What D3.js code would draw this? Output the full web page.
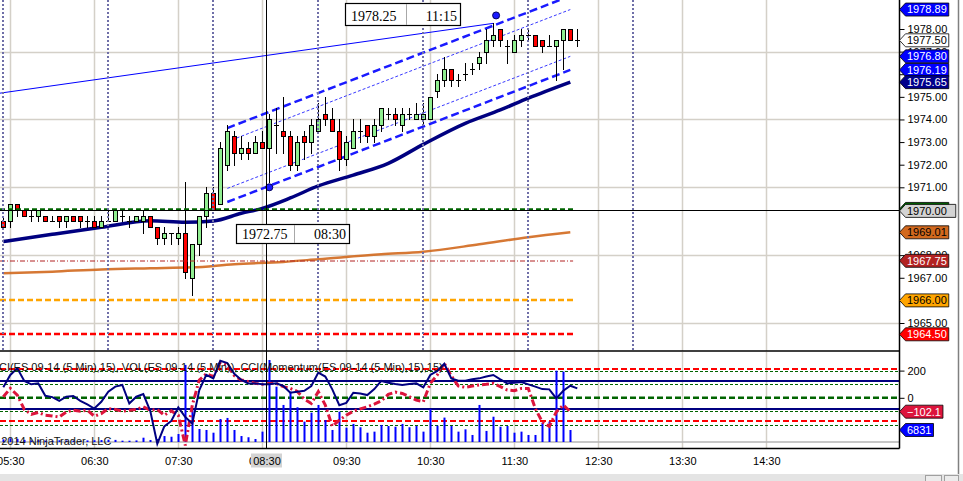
<!DOCTYPE html>
<html>
<head>
<meta charset="utf-8">
<script src="https://cdn.jsdelivr.net/npm/d3@7"></script>
<style>
body { margin: 0; background: #fff; }
svg { display: block; font-family: "Liberation Sans", Arial, sans-serif; }
</style>
</head>
<body>
<svg id="chart" width="963" height="481"></svg>
<script>
// ES 09-14 (5 Min) bars, first bar 05:25
var firstBar = "05:25";
var opens  = [1969.50,1969.50,1970.25,1970.00,1969.75,1969.75,1969.75,1969.50,1969.75,1969.50,
              1969.75,1969.75,1969.50,1969.50,1969.25,1969.50,1969.50,1969.75,1969.50,1969.50,
              1969.50,1969.75,1969.25,1968.75,1969.00,1968.75,1969.00,1967.00,1968.50,1969.75,
              1970.75,1970.25,1972.00,1973.25,1972.50,1972.75,1972.50,1973.00,1972.75,1973.75,
              1973.50,1973.25,1972.00,1973.25,1973.00,1973.50,1974.25,1974.00,1973.50,1972.25,
              1972.75,1973.50,1973.75,1973.25,1973.75,1974.25,1974.25,1973.75,1974.25,1974.00,
              1974.00,1974.00,1975.25,1975.75,1976.25,1975.75,1976.00,1976.25,1976.50,1977.00,
              1977.50,1978.00,1977.25,1977.00,1977.50,1977.75,1977.75,1977.50,1977.25,1977.25,
              1977.50,1978.00,1977.50];
var highs  = [1969.75,1970.25,1970.25,1970.00,1970.00,1970.00,1969.75,1969.75,1969.75,1969.75,
              1969.75,1969.75,1969.75,1969.75,1969.75,1970.00,1970.00,1970.00,1969.75,1969.75,
              1970.00,1969.75,1969.25,1969.25,1969.00,1969.25,1971.25,1968.50,1969.75,1971.00,
              1971.00,1973.00,1973.75,1973.50,1973.25,1973.00,1973.25,1973.50,1974.25,1974.50,
              1975.00,1973.50,1973.25,1973.50,1974.00,1974.75,1975.00,1974.50,1974.00,1973.25,
              1974.00,1974.00,1973.75,1974.00,1974.50,1974.50,1974.50,1974.50,1974.50,1974.75,
              1974.75,1975.00,1976.00,1976.75,1976.25,1976.00,1976.50,1976.50,1977.00,1978.00,
              1978.25,1978.00,1977.50,1977.75,1978.00,1978.00,1977.75,1977.50,1977.75,1977.50,
              1978.00,1978.00,1978.00];
var lows   = [1969.25,1969.25,1969.75,1969.75,1969.50,1969.50,1969.50,1969.50,1969.25,1969.25,
              1969.50,1969.25,1969.25,1969.25,1969.25,1969.50,1969.50,1969.50,1969.25,1969.50,
              1969.00,1969.25,1968.50,1968.50,1968.50,1968.50,1967.00,1966.25,1968.00,1969.25,
              1970.00,1970.25,1971.75,1972.00,1972.25,1972.25,1972.50,1972.75,1971.25,1972.50,
              1972.50,1971.75,1971.75,1972.25,1972.50,1973.50,1973.75,1973.50,1971.75,1972.00,
              1972.75,1973.00,1973.00,1973.00,1973.50,1974.00,1973.75,1973.50,1974.00,1974.00,
              1973.75,1974.00,1975.00,1975.50,1975.50,1975.50,1975.75,1976.00,1976.25,1976.50,
              1977.25,1977.25,1976.50,1977.00,1977.25,1977.50,1977.25,1977.00,1977.25,1975.75,
              1976.25,1977.50,1977.25];
var closes = [1969.25,1970.25,1970.00,1969.75,1969.75,1970.00,1969.50,1969.50,1969.50,1969.75,
              1969.50,1969.50,1969.50,1969.25,1969.50,1969.50,1970.00,1969.75,1969.50,1969.75,
              1969.75,1969.25,1968.75,1969.00,1969.00,1969.00,1967.25,1968.50,1969.75,1970.75,
              1970.00,1972.75,1973.50,1972.50,1972.75,1972.50,1973.00,1972.75,1974.00,1973.75,
              1973.25,1972.00,1973.00,1973.00,1973.75,1974.00,1974.00,1973.50,1972.25,1973.00,
              1973.50,1973.50,1973.25,1973.75,1974.50,1974.25,1974.00,1974.25,1974.25,1974.25,
              1974.25,1975.00,1975.75,1976.25,1975.75,1975.75,1976.00,1976.25,1976.75,1977.50,
              1977.75,1977.50,1977.25,1977.50,1977.75,1977.75,1977.25,1977.25,1977.25,1977.50,
              1978.00,1977.50,1977.50];

// volume per bar (last bar still forming, not plotted)
var volumes = [1500,2100,1800,1200,900,1100,800,700,1000,900,
               800,700,900,1000,1100,1300,1200,750,750,900,
               2450,1150,1700,3400,3000,4550,43900,18200,7400,6850,
               5300,13100,13700,6850,3400,2700,1700,5900,46700,31500,
               21100,28700,19800,11600,16700,21100,12500,6850,17300,8150,
               10300,8400,5300,5900,9700,9100,8700,10300,8400,9100,
               5900,18800,9300,13900,9100,5900,7200,4000,21100,6300,
               14400,8700,9100,5300,5900,4000,4000,11000,11600,40600,
               40100,6831];

// CCI(ES,15) and CCI(Momentum(ES,15),15)
var cciPrice = [77,168,217,124,99,106,15,5,-22,8,
                13,-22,-49,-79,-29,45,82,94,-42,8,
                27,-98,-338,-210,-170,-71,-141,-190,57,168,
                143,272,255,176,131,106,106,99,99,106,
                87,37,45,52,87,185,156,62,-54,-37,
                37,32,20,64,124,111,101,94,101,106,
                77,168,198,250,143,126,126,136,143,156,
                168,136,106,111,116,99,82,64,62,-5,
                52,89,69];
var cciMomentum = [8,69,20,-86,-121,-108,-128,-133,-141,-104,
                   -91,-98,-91,-135,-116,-79,-86,-98,-91,-86,
                   -66,-91,-86,-128,-96,-128,-350,-54,131,176,
                   156,260,242,163,131,119,106,99,106,106,
                   82,69,47,-10,-42,45,-54,-210,-165,-128,
                   -98,-81,-66,-47,-22,25,42,32,8,-17,
                   -29,106,168,254,161,87,77,87,94,99,
                   106,82,57,52,69,69,-79,-178,-210,-104,
                   -54,-102.1];

// moving averages, read at [time, value]
var maNavy = [["05:25",1968.60],["06:00",1968.92],["06:35",1969.23],["07:10",1969.52],["07:35",1969.45],
              ["07:55",1969.51],["08:15",1969.85],["08:30",1970.07],["08:50",1970.53],["09:10",1971.06],
              ["09:35",1971.54],["10:00",1972.06],["10:25",1972.90],["10:55",1973.83],["11:20",1974.42],
              ["11:40",1974.94],["12:10",1975.65]];
var maOrange = [["05:25",1967.20],["06:00",1967.27],["06:35",1967.37],["07:10",1967.42],["07:40",1967.46],
                ["08:10",1967.60],["08:45",1967.70],["09:10",1967.82],["09:55",1968.04],["10:25",1968.15],
                ["11:05",1968.48],["11:40",1968.79],["12:10",1969.01]];

// drawings
var trendLine = [["05:20",1975.14],["11:15",1978.25]];
var channelTimes = ["08:05","12:10"];
var channelLower = [1970.35,1976.19];
var channelWidth = 3.27, channelInner = 0.6;
var anchorDots = [["11:17",1978.60],["08:35",1971.00]];
var priceLevels = [1970.00,1967.75,1966.00,1964.50];
var breakTimes = ["05:25","06:40","07:55","09:10","10:25","11:40","12:55"];
var hourTicks = ["05:30","06:30","07:30","08:30","09:30","10:30","11:30","12:30","13:30","14:30"];
var priceTicks = d3.range(1965, 1979);
var oscTicks = [0, 200];
var oscGreenDotted = [200,100,-100,-200], oscRed = [212,-170], oscNavy = [124,-82];
var crossTime = "08:32", crossPrice = 1969.98;

var toMin = function(s) { var p = s.split(":"); return +p[0]*60 + +p[1]; };
var pad2 = d3.format("02");
var px = function(v) { return Math.round(v) + 0.5; };

var svg = d3.select("#chart");
var plotRight = 899.5;

var x = d3.scaleLinear().domain([toMin("05:30"), toMin("14:30")]).range([10.3, 766.3]);
var y = d3.scaleLinear().domain([1965, 1978]).range([323, 29]);
var yOsc = d3.scaleLinear().domain([-200, 200]).range([425, 370.6]);
var yVol = d3.scaleLinear().domain([0, 50000]).range([442, 354.2]);

var bars = opens.map(function(o, i) {
  return {t: toMin(firstBar) + 5*i, o: o, h: highs[i], l: lows[i], c: closes[i]};
});
var barX = function(i) { return x(toMin(firstBar) + 5*i); };

svg.append("rect").attr("width", 963).attr("height", 481).attr("fill", "#fff");
var defs = svg.append("defs");
defs.append("clipPath").attr("id", "pclip").append("rect")
  .attr("x", 0).attr("y", 0).attr("width", 899).attr("height", 351);
defs.append("clipPath").attr("id", "lclip").append("rect")
  .attr("x", 0).attr("y", 352).attr("width", 899).attr("height", 96);

var gp = svg.append("g").attr("clip-path", "url(#pclip)");
var gl = svg.append("g").attr("clip-path", "url(#lclip)");

// ---------- price panel ----------
// grid
gp.selectAll("line.hg").data([1977,1974,1971,1968,1965]).join("line")
  .attr("x1", 0).attr("x2", plotRight).attr("y1", function(d){ return px(y(d)); }).attr("y2", function(d){ return px(y(d)); })
  .attr("stroke", "#d4d0c8").attr("stroke-width", 1.5);
gp.selectAll("line.vg").data(hourTicks).join("line")
  .attr("x1", function(d){ return px(x(toMin(d))); }).attr("x2", function(d){ return px(x(toMin(d))); })
  .attr("y1", 0).attr("y2", 351)
  .attr("stroke", "#d4d0c8").attr("stroke-width", 1.5);

// moving averages
var maLine = d3.line().x(function(d){ return x(toMin(d[0])); }).y(function(d){ return y(d[1]); }).curve(d3.curveMonotoneX);
gp.append("path").attr("d", maLine(maOrange)).attr("fill", "none").attr("stroke", "#d2691e").attr("stroke-width", 2.5).attr("stroke-opacity", 0.9);
gp.append("path").attr("d", maLine(maNavy)).attr("fill", "none").attr("stroke", "#000080").attr("stroke-width", 3.5);

// trend line and regression channel
gp.append("line")
  .attr("x1", x(toMin(trendLine[0][0]))).attr("y1", y(trendLine[0][1]))
  .attr("x2", x(toMin(trendLine[1][0]))).attr("y2", y(trendLine[1][1]))
  .attr("stroke", "#0000ff").attr("stroke-width", 1);
var chanX1 = x(toMin(channelTimes[0])), chanX2 = x(toMin(channelTimes[1]));
[[0, 2.5, "8,4"], [channelInner, 1, "3,2"], [channelWidth - channelInner, 1, "3,2"], [channelWidth, 2.5, "8,4"]]
  .forEach(function(c) {
    gp.append("line")
      .attr("x1", chanX1).attr("y1", y(channelLower[0] + c[0]))
      .attr("x2", chanX2).attr("y2", y(channelLower[1] + c[0]))
      .attr("stroke", c[1] > 2 ? "#1a1aff" : "#3a3aff").attr("stroke-width", c[1])
      .attr("stroke-dasharray", c[2]);
  });

// candles
var cg = gp.selectAll("g.bar").data(bars).join("g");
cg.append("line")
  .attr("x1", function(d){ return Math.round(x(d.t)) + 0.5; })
  .attr("x2", function(d){ return Math.round(x(d.t)) + 0.5; })
  .attr("y1", function(d){ return Math.round(y(d.h)); })
  .attr("y2", function(d){ return Math.round(y(d.l)) + 1; })
  .attr("stroke", "#000").attr("stroke-width", 1);
cg.filter(function(d){ return d.o !== d.c; }).append("rect")
  .attr("x", function(d){ return Math.round(x(d.t)) - 1.5; })
  .attr("width", 4)
  .attr("y", function(d){ return px(y(Math.max(d.o, d.c))); })
  .attr("height", function(d){ return Math.round(y(Math.min(d.o, d.c))) - Math.round(y(Math.max(d.o, d.c))); })
  .attr("fill", function(d){ return d.c > d.o ? "#90ee90" : "#ff0000"; })
  .attr("stroke", "#000").attr("stroke-width", 1);
cg.filter(function(d){ return d.o === d.c; }).append("line")
  .attr("x1", function(d){ return Math.round(x(d.t)) - 2; })
  .attr("x2", function(d){ return Math.round(x(d.t)) + 3; })
  .attr("y1", function(d){ return px(y(d.o)); })
  .attr("y2", function(d){ return px(y(d.o)); })
  .attr("stroke", "#000").attr("stroke-width", 1);

// horizontal price levels
var levelEnd = x(toMin("12:12"));
var levelStyle = [["#006400", 2.5, "5,3"], ["#b22222", 1, "5,2,1,2"], ["#ffa500", 2.5, "6,3"], ["#ff0000", 2.5, "6,3"]];
priceLevels.forEach(function(p, i) {
  gp.append("line").attr("x1", 0).attr("x2", levelEnd)
    .attr("y1", Math.round(y(p)) - (i === 0 ? 0.5 : 0)).attr("y2", Math.round(y(p)) - (i === 0 ? 0.5 : 0))
    .attr("stroke", levelStyle[i][0]).attr("stroke-width", levelStyle[i][1])
    .attr("stroke-dasharray", levelStyle[i][2]);
});

// period break lines
gp.selectAll("line.brk").data(breakTimes).join("line")
  .attr("x1", function(d){ return Math.round(x(toMin(d))); }).attr("x2", function(d){ return Math.round(x(toMin(d))); })
  .attr("y1", 0).attr("y2", 351)
  .attr("stroke", "#6f6fa8").attr("stroke-width", 2).attr("stroke-dasharray", "2,2");

// anchor dots
gp.selectAll("circle").data(anchorDots).join("circle")
  .attr("cx", function(d){ return x(toMin(d[0])); }).attr("cy", function(d){ return y(d[1]); })
  .attr("r", 3.5).attr("fill", "#1a1aff").attr("stroke", "#000060").attr("stroke-width", 1);

// crosshair
var crossX = px(x(toMin(crossTime) + 0.5));
gp.append("line").attr("x1", 0).attr("x2", plotRight).attr("y1", px(y(crossPrice))).attr("y2", px(y(crossPrice)))
  .attr("stroke", "#000").attr("stroke-width", 1);

// value boxes
function valueBox(x0, y0, w, h, split, left, right) {
  var g = svg.append("g");
  g.append("rect").attr("x", x0 + 0.5).attr("y", y0 + 0.5).attr("width", w).attr("height", h)
    .attr("fill", "#fff").attr("stroke", "#000").attr("stroke-width", 1.2);
  g.append("line").attr("x1", split + 0.5).attr("x2", split + 0.5).attr("y1", y0 + 1).attr("y2", y0 + h)
    .attr("stroke", "#a8a8a8");
  g.append("text").attr("x", x0 + 6).attr("y", y0 + h - 4.5).text(left)
    .style("font-family", "'Liberation Serif', 'Times New Roman', serif").style("font-size", "14px");
  g.append("text").attr("x", x0 + w - 3).attr("y", y0 + h - 4.5).attr("text-anchor", "end").text(right)
    .style("font-family", "'Liberation Serif', 'Times New Roman', serif").style("font-size", "14px");
}

// ---------- lower panel ----------
gl.selectAll("line.vg").data(hourTicks).join("line")
  .attr("x1", function(d){ return px(x(toMin(d))); }).attr("x2", function(d){ return px(x(toMin(d))); })
  .attr("y1", 352).attr("y2", 448)
  .attr("stroke", "#d4d0c8").attr("stroke-width", 1.5);

gl.append("line").attr("x1", 0).attr("x2", plotRight).attr("y1", 442).attr("y2", 442)
  .attr("stroke", "#b4b4b4").attr("stroke-width", 1.5);

gl.selectAll("line.gd").data(oscGreenDotted).join("line")
  .attr("x1", 0).attr("x2", plotRight).attr("y1", function(d){ return px(yOsc(d)); }).attr("y2", function(d){ return px(yOsc(d)); })
  .attr("stroke", "#006400").attr("stroke-width", 1).attr("stroke-dasharray", "3,2");
gl.append("line").attr("x1", 0).attr("x2", plotRight).attr("y1", yOsc(0)).attr("y2", yOsc(0))
  .attr("stroke", "#006400").attr("stroke-width", 2.5).attr("stroke-dasharray", "6,3");
gl.selectAll("line.rd").data(oscRed).join("line")
  .attr("x1", 0).attr("x2", plotRight).attr("y1", function(d){ return yOsc(d); }).attr("y2", function(d){ return yOsc(d); })
  .attr("stroke", "#ff0000").attr("stroke-width", 2).attr("stroke-dasharray", "6,3");
gl.selectAll("line.nv").data(oscNavy).join("line")
  .attr("x1", 0).attr("x2", plotRight).attr("y1", function(d){ return yOsc(d); }).attr("y2", function(d){ return yOsc(d); })
  .attr("stroke", "#000080").attr("stroke-width", 2);

gl.selectAll("rect.vol").data(volumes).join("rect")
  .attr("x", function(d, i){ return Math.round(barX(i)) - 0.5; })
  .attr("width", 2)
  .attr("y", function(d){ return yVol(d); })
  .attr("height", function(d){ return 442 - yVol(d); })
  .attr("fill", "#0000ff");

var oscLine = d3.line().x(function(d, i){ return barX(i); }).y(function(d){ return yOsc(d); });
gl.append("path").attr("d", oscLine(cciMomentum)).attr("fill", "none")
  .attr("stroke", "#dc143c").attr("stroke-width", 3).attr("stroke-dasharray", "7,3,2,3");
gl.append("path").attr("d", oscLine(cciPrice)).attr("fill", "none")
  .attr("stroke", "#000080").attr("stroke-width", 2);

gl.append("text").attr("x", -9).attr("y", 371).attr("fill", "#111").style("font-size", "11px")
  .text("CCI(ES 09-14 (5 Min),15), VOL(ES 09-14 (5 Min)), CCI(Momentum(ES 09-14 (5 Min),15),15)");
gl.append("text").attr("x", -10).attr("y", 445).attr("fill", "#111").style("font-size", "11px")
  .text("\u00a9 2014 NinjaTrader, LLC");

// crosshair vertical across both panels
svg.append("line").attr("x1", crossX).attr("x2", crossX).attr("y1", 0).attr("y2", 448)
  .attr("stroke", "#000").attr("stroke-width", 1);

valueBox(345, 3, 115, 22, 406, "1978.25", "11:15");
valueBox(236, 224, 113, 19, 294, "1972.75", "08:30");

// ---------- axes ----------
var axP = svg.append("g").attr("transform", "translate(" + plotRight + ",0)")
  .call(d3.axisRight(y).tickValues(priceTicks).tickFormat(d3.format(".2f")).tickSize(5).tickPadding(3));
var axO = svg.append("g").attr("transform", "translate(" + plotRight + ",0)")
  .call(d3.axisRight(yOsc).tickValues(oscTicks).tickSize(5).tickPadding(3));
var axX = svg.append("g").attr("transform", "translate(0,448)")
  .call(d3.axisBottom(x).tickValues(hourTicks.map(toMin)).tickSize(0).tickPadding(9)
    .tickFormat(function(m){ return pad2(Math.floor(m/60)) + ":" + pad2(m % 60); }));
[axP, axO, axX].forEach(function(a) {
  a.select(".domain").remove();
  a.selectAll("text").attr("fill", "#000").style("font-size", "11px").style("font-family", "'Liberation Sans', Arial, sans-serif");
  a.selectAll("line").attr("stroke", "#000");
});

// crosshair time label
svg.append("rect").attr("x", crossX - 15.5).attr("y", 453.5).attr("width", 31).attr("height", 14).attr("fill", "#d3d3d3");
svg.append("text").attr("x", crossX + 0.5).attr("y", 464.8).attr("text-anchor", "middle").style("font-size", "11px").text(crossTime.replace("32", "30"));

// frame
svg.append("line").attr("x1", plotRight).attr("x2", plotRight).attr("y1", 0).attr("y2", 448.5).attr("stroke", "#000").attr("stroke-width", 1.5);
svg.append("line").attr("x1", 0).attr("x2", plotRight).attr("y1", 351).attr("y2", 351).attr("stroke", "#000").attr("stroke-width", 1.5);
svg.append("line").attr("x1", 0).attr("x2", plotRight).attr("y1", 448.5).attr("y2", 448.5).attr("stroke", "#000").attr("stroke-width", 1.5);
svg.append("line").attr("x1", 958.5).attr("x2", 958.5).attr("y1", 0).attr("y2", 474).attr("stroke", "#808080").attr("stroke-width", 1.5);
svg.append("rect").attr("x", 0).attr("y", 474).attr("width", 963).attr("height", 7).attr("fill", "#e4e4e4");
svg.append("rect").attr("x", 925.5).attr("y", 475.5).attr("width", 16).attr("height", 6).attr("fill", "#ececec").attr("stroke", "#a0a0a0");
svg.append("rect").attr("x", 944.5).attr("y", 475.5).attr("width", 14).attr("height", 6).attr("fill", "#ececec").attr("stroke", "#a0a0a0");

// ---------- axis value markers ----------
function marker(yy, label, fill, color, extra) {
  var g = svg.append("g");
  var t = g.append("text").attr("x", 907).attr("y", yy).attr("dy", "0.35em").attr("fill", color)
    .style("font-size", "11px").text(label);
  var w = t.node().getComputedTextLength();
  var r = 907 + w + (extra || 2), h = 6.5;
  g.insert("path", "text")
    .attr("d", "M" + plotRight + "," + yy + " L905.5," + (yy - h) + " L" + r + "," + (yy - h) +
               " L" + r + "," + (yy + h) + " L905.5," + (yy + h) + " Z")
    .attr("fill", fill).attr("stroke", "#000").attr("stroke-width", 0.8);
}
var fmt2 = d3.format(".2f");
marker(y(channelLower[1] + channelWidth - channelInner) , fmt2(channelLower[1] + channelWidth - channelInner + 0.03), "#0000ff", "#fff");
marker(y(closes[closes.length - 1]), fmt2(closes[closes.length - 1]), "#fff", "#000");
marker(y(channelLower[1] + channelInner), fmt2(channelLower[1] + channelInner + 0.01), "#0000ff", "#fff");
marker(y(channelLower[1]), fmt2(channelLower[1]), "#0000ff", "#fff");
marker(y(maNavy[maNavy.length - 1][1]), fmt2(maNavy[maNavy.length - 1][1]), "#00008b", "#fff");
marker(y(priceLevels[0]) - 1, fmt2(priceLevels[0]), "#006400", "#fff");
marker(y(crossPrice) + 0.5, fmt2(priceLevels[0]), "#d3d3d3", "#000", 9);
marker(y(maOrange[maOrange.length - 1][1]), fmt2(maOrange[maOrange.length - 1][1]), "#d2691e", "#000");
marker(y(priceLevels[1]), fmt2(priceLevels[1]), "#b22222", "#fff");
marker(y(priceLevels[2]), fmt2(priceLevels[2]), "#ffa500", "#000");
marker(y(priceLevels[3]), fmt2(priceLevels[3]), "#ff0000", "#fff");
marker(yOsc(cciMomentum[cciMomentum.length - 1]), d3.format(".1f")(cciMomentum[cciMomentum.length - 1]), "#dc143c", "#fff");
marker(yVol(volumes[volumes.length - 1]), String(volumes[volumes.length - 1]), "#0000ff", "#fff");
</script>
</body>
</html>
